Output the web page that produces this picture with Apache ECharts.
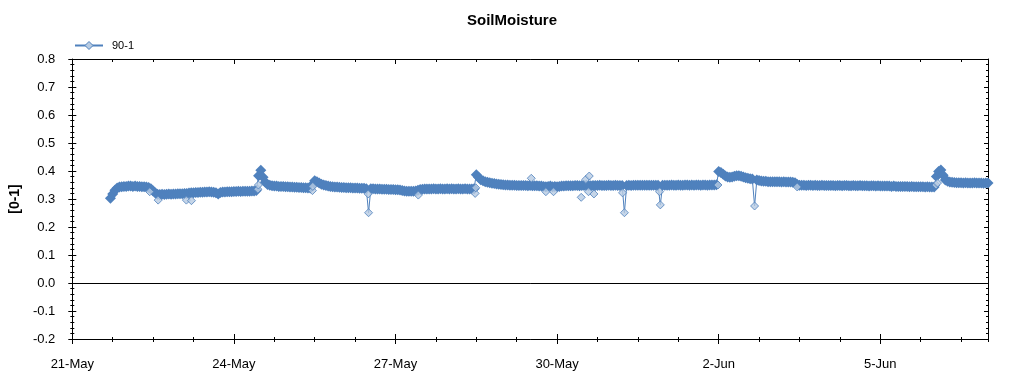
<!DOCTYPE html>
<html><head><meta charset="utf-8">
<script src="https://cdn.jsdelivr.net/npm/echarts@6/dist/echarts.min.js"></script>
<style>html,body{margin:0;padding:0;background:#fff}#c{width:1024px;height:375px}</style>
</head><body><div id="c"></div>
<script>
// ---- data ----
const chartTitle = 'SoilMoisture';
const seriesName = '90-1';
const yAxisName = '[0-1]';
const xTickLabels = ['21-May', '24-May', '27-May', '30-May', '2-Jun', '5-Jun', '8-Jun'];
const firstHour = 17; // first reading: 21-May 17:00, then hourly
const may21 = [0.303, 0.318, 0.331, 0.339, 0.343, 0.344, 0.345];
const may22 = [0.345,0.346,0.346,0.345,0.346,0.345,0.345,0.344,0.344,0.343,0.341,0.337,0.329,0.321,0.317,0.316,0.317,0.316,0.317,0.318,0.317,0.318,0.318,0.319];
const may23 = [0.319,0.319,0.320,0.320,0.321,0.322,0.322,0.323,0.323,0.324,0.324,0.325,0.325,0.326,0.325,0.324,0.322,0.318,0.323,0.325,0.325,0.326,0.326,0.326];
const may24 = [0.327,0.327,0.328,0.327,0.328,0.328,0.328,0.328,0.329,0.329,0.330,0.383,0.403,0.378,0.360,0.352,0.349,0.347,0.346,0.346,0.345,0.345,0.345,0.344];
const may25 = [0.344,0.343,0.343,0.342,0.342,0.341,0.341,0.340,0.340,0.339,0.339,0.352,0.365,0.362,0.357,0.353,0.350,0.348,0.346,0.345,0.344,0.343,0.343,0.342];
const may26 = [0.341,0.341,0.340,0.340,0.340,0.339,0.339,0.339,0.338,0.338,0.338,0.337,0.251,0.337,0.337,0.336,0.336,0.336,0.335,0.335,0.335,0.334,0.334,0.334];
const may27 = [0.333,0.333,0.332,0.330,0.329,0.328,0.328,0.328,0.328,0.329,0.331,0.334,0.335,0.336,0.336,0.336,0.336,0.337,0.336,0.336,0.337,0.336,0.336,0.337];
const may28 = [0.336,0.337,0.336,0.336,0.337,0.336,0.336,0.337,0.336,0.336,0.336,0.337,0.387,0.378,0.369,0.365,0.362,0.360,0.358,0.356,0.355,0.354,0.353,0.352];
const may29 = [0.351,0.350,0.350,0.349,0.349,0.349,0.348,0.348,0.348,0.348,0.348,0.347,0.348,0.347,0.347,0.347,0.346,0.346,0.345,0.344,0.345,0.346,0.344,0.345];
const may30 = [0.344,0.345,0.346,0.346,0.347,0.347,0.347,0.347,0.348,0.348,0.347,0.348,0.348,0.349,0.348,0.347,0.348,0.348,0.348,0.349,0.348,0.348,0.348,0.349];
const may31 = [0.348,0.348,0.349,0.348,0.348,0.348,0.251,0.348,0.349,0.348,0.349,0.349,0.349,0.349,0.349,0.349,0.349,0.349,0.349,0.349,0.349,0.349,0.279,0.349];
const jun01 = [0.349,0.349,0.349,0.350,0.349,0.349,0.350,0.349,0.349,0.350,0.350,0.349,0.350,0.349,0.350,0.350,0.349,0.350,0.350,0.349,0.350,0.350,0.350,0.351];
const jun02 = [0.398,0.395,0.388,0.382,0.379,0.378,0.379,0.381,0.383,0.383,0.381,0.379,0.376,0.374,0.372,0.371,0.275,0.368,0.366,0.364,0.363,0.363,0.362,0.362];
const jun03 = [0.362,0.362,0.362,0.362,0.361,0.362,0.361,0.361,0.361,0.360,0.358,0.352,0.349,0.349,0.349,0.348,0.349,0.349,0.348,0.349,0.348,0.348,0.349,0.348];
const jun04 = [0.348,0.348,0.348,0.348,0.347,0.348,0.348,0.347,0.348,0.348,0.347,0.347,0.348,0.347,0.347,0.348,0.347,0.347,0.347,0.346,0.347,0.347,0.346,0.347];
const jun05 = [0.346,0.346,0.346,0.346,0.346,0.345,0.346,0.345,0.345,0.345,0.345,0.345,0.345,0.344,0.345,0.344,0.344,0.344,0.344,0.344,0.343,0.344,0.343,0.343];
const jun06 = [0.343,0.380,0.398,0.404,0.385,0.368,0.363,0.361,0.360,0.359,0.358,0.358,0.358,0.357,0.358,0.357,0.357,0.357,0.358,0.357,0.357,0.357,0.356,0.357];
const jun07 = [0.357];
// isolated readings drawn as open diamonds
const outlierTimes = ['05-22 10:30','05-22 14:15','05-23 02:50','05-23 05:05','05-24 10:40','05-24 10:55','05-25 11:00','05-25 11:10','05-26 11:50','05-26 12:00','05-27 10:10','05-28 11:30','05-28 11:45','05-29 12:30','05-29 19:00','05-29 22:25','05-30 10:45','05-30 12:50','05-30 14:20','05-30 14:00','05-30 16:25','05-31 05:10','05-31 06:00','05-31 21:40','05-31 22:00','06-01 23:40','06-02 16:00','06-03 11:00','06-06 00:50','06-06 01:30'];
const outlierValues = [0.326,0.296,0.296,0.294,0.335,0.350,0.330,0.345,0.318,0.251,0.314,0.320,0.340,0.374,0.326,0.326,0.306,0.370,0.382,0.326,0.318,0.322,0.251,0.326,0.279,0.350,0.275,0.343,0.350,0.357];

// ---- build ----
function toDay(s) {
  const [md, hm] = s.split(' ');
  const [m, d] = md.split('-').map(Number);
  const [h, mi] = hm.split(':').map(Number);
  const dayIdx = m === 5 ? d - 21 : d + 10;
  return dayIdx + (h + mi / 60) / 24;
}
const outlierData = outlierTimes.map((t, i) => [toDay(t), outlierValues[i]]);
const outlierKeys = new Set(outlierData.map(p => p[0].toFixed(4) + '|' + p[1]));
const hourly = [].concat(may21, may22, may23, may24, may25, may26, may27, may28, may29, may30, may31, jun01, jun02, jun03, jun04, jun05, jun06, jun07);
const mainData = hourly.map((v, i) => {
  const x = (firstHour + i) / 24;
  // readings that are also drawn as open diamonds get no filled marker here
  return outlierKeys.has(x.toFixed(4) + '|' + v) ? { value: [x, v], symbol: 'none' } : [x, v];
});

const FONT = 'Liberation Sans, Arial, sans-serif';
const BLACK = '#000';
function xAx(o) {
  return Object.assign({
    type: 'value', min: 0, max: 17, interval: 3, position: 'bottom',
    axisLine: { show: false, onZero: false, lineStyle: { color: BLACK, width: 1 } },
    axisTick: { show: true, inside: false, length: 5, lineStyle: { color: BLACK, width: 1 } },
    axisLabel: { show: false }, splitLine: { show: false }
  }, o);
}
function yAx(o) {
  return Object.assign({
    type: 'value', min: -0.2, max: 0.8, interval: 0.1, position: 'left',
    axisLine: { show: false, onZero: false, lineStyle: { color: BLACK, width: 1 } },
    axisTick: { show: true, inside: false, length: 4, lineStyle: { color: BLACK, width: 1 } },
    minorTick: { show: true, splitNumber: 5, length: 2, lineStyle: { color: BLACK, width: 1 } },
    axisLabel: { show: false }, splitLine: { show: false }
  }, o);
}
const tick = (inside, length) => ({ show: true, inside, length, lineStyle: { color: BLACK, width: 1 } });

const option = {
  animation: false,
  backgroundColor: '#fff',
  title: { text: chartTitle, left: 'center', top: 8, textStyle: { fontSize: 15, fontWeight: 'bold', color: BLACK, fontFamily: FONT } },
  legend: {
    data: [{ name: seriesName, itemStyle: { color: '#b7cbe2', borderColor: '#4f81bd', borderWidth: 1 } }],
    left: 69, top: 35, itemWidth: 28, itemHeight: 10, selectedMode: false,
    textStyle: { fontSize: 11, color: BLACK, fontFamily: FONT, padding: [0, 0, 0, 4] }
  },
  grid: { left: 71, right: 36, top: 59, bottom: 36, containLabel: false },
  xAxis: [
    xAx({ axisLine: { show: true, onZero: false, lineStyle: { color: BLACK, width: 1 } }, axisTick: tick(false, 5),
      axisLabel: { show: true, margin: 19, color: BLACK, fontSize: 13, fontFamily: FONT, showMaxLabel: false,
        formatter: v => xTickLabels[Math.round(v / 3)] || '' } }),
    xAx({ axisTick: tick(true, 5) }),
    xAx({ interval: 0.75, axisTick: tick(false, 3) }),
    xAx({ interval: 0.75, axisTick: tick(true, 2) }),
    xAx({ position: 'top', axisLine: { show: true, onZero: false, lineStyle: { color: BLACK, width: 1 } }, axisTick: tick(true, 5) }),
    xAx({ position: 'top', interval: 0.75, axisTick: tick(true, 3) })
  ],
  yAxis: [
    yAx({ axisLine: { show: true, onZero: false, lineStyle: { color: BLACK, width: 1 } }, axisTick: tick(false, 4),
      axisLabel: { show: true, margin: 17, color: BLACK, fontSize: 13, fontFamily: FONT, formatter: v => v.toFixed(1) },
      name: yAxisName, nameLocation: 'middle', nameGap: 41, nameRotate: 90,
      nameTextStyle: { fontSize: 14, fontWeight: 'bold', color: BLACK, fontFamily: FONT } }),
    yAx({ axisTick: tick(true, 4) }),
    yAx({ position: 'right', axisLine: { show: true, onZero: false, lineStyle: { color: BLACK, width: 1 } }, axisTick: tick(true, 4) })
  ],
  series: [
    {
      name: seriesName, type: 'line', xAxisIndex: 0, yAxisIndex: 0, data: mainData,
      symbol: 'diamond', symbolSize: 11, showAllSymbol: true, showSymbol: true,
      lineStyle: { color: '#4f81bd', width: 1 },
      itemStyle: { color: '#4f81bd', borderWidth: 0 },
      emphasis: { disabled: true }, z: 3,
      markLine: { silent: true, symbol: 'none', label: { show: false }, animation: false,
        lineStyle: { color: BLACK, width: 1, type: 'solid' }, emphasis: { disabled: true }, data: [{ yAxis: 0 }] }
    },
    {
      name: 'isolated', type: 'scatter', xAxisIndex: 0, yAxisIndex: 0, data: outlierData,
      symbol: 'diamond', symbolSize: 8,
      itemStyle: { color: '#b7cbe2', borderColor: '#4f81bd', borderWidth: 1 },
      emphasis: { disabled: true }, z: 4
    }
  ]
};
const chart = echarts.init(document.getElementById('c'), null, { renderer: 'canvas' });
chart.setOption(option);
</script>
</body></html>
